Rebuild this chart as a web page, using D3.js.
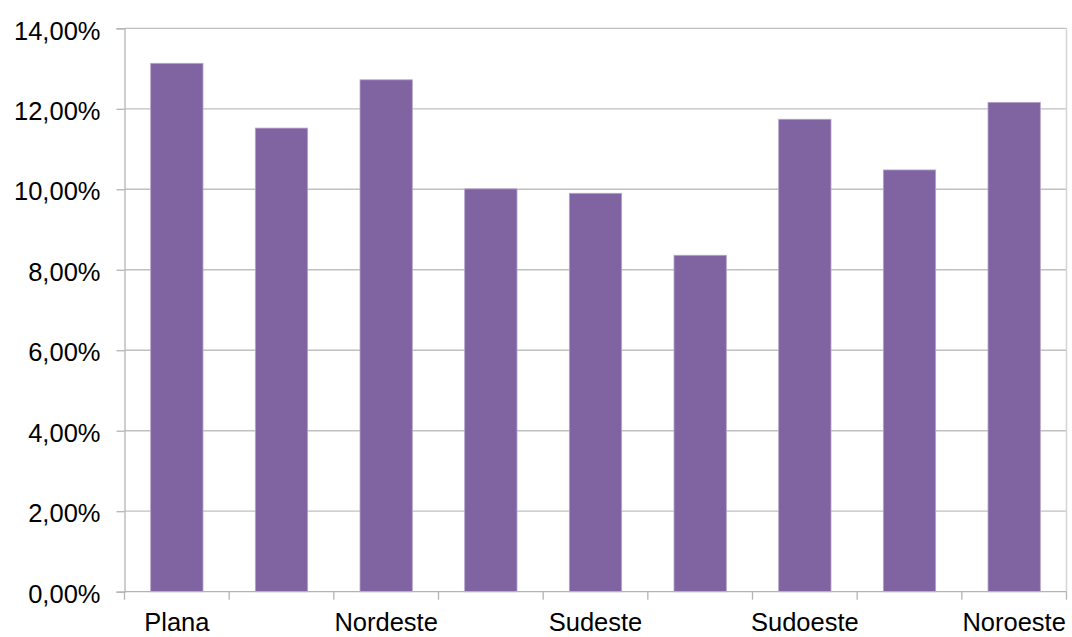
<!DOCTYPE html>
<html>
<head>
<meta charset="utf-8">
<script src="https://cdn.jsdelivr.net/npm/d3@7"></script>
<style>
  html, body { margin: 0; padding: 0; background: #fff; }
  svg { display: block; }
  text { font-family: "Liberation Sans", Arial, Helvetica, sans-serif; fill: #000; }
</style>
</head>
<body>
<svg id="chart" width="1072" height="637"></svg>
<script>
// Regions and their share (%)
const categories = ["Plana", "Norte", "Nordeste", "Leste", "Sudeste", "Sul", "Sudoeste", "Oeste", "Noroeste"];
const values = [13.13, 11.52, 12.72, 10.01, 9.90, 8.36, 11.74, 10.48, 12.16];
// Only every other category name fits under the axis
const shownLabels = ["Plana", "Nordeste", "Sudeste", "Sudoeste", "Noroeste"];
const yTicks = [0, 2, 4, 6, 8, 10, 12, 14];

const svg = d3.select("#chart");
const margin = { top: 28.3, right: 5.5, bottom: 45.3, left: 124.5 };
const W = 1072, H = 637;
const innerW = W - margin.left - margin.right;
const innerH = H - margin.top - margin.bottom;

const g = svg.append("g").attr("transform", `translate(${margin.left},${margin.top})`);

const x = d3.scaleBand().domain(categories).range([0, innerW]).paddingInner(0.5).paddingOuter(0.25);
const y = d3.scaleLinear().domain([0, 14]).range([innerH, 0]);

const fmt = v => d3.format(".2f")(v).replace(".", ",") + "%";

// Horizontal gridlines
g.append("g")
  .selectAll("line")
  .data(yTicks.filter(t => t > 0))
  .join("line")
  .attr("x1", 0).attr("x2", innerW)
  .attr("y1", d => y(d)).attr("y2", d => y(d))
  .attr("stroke", "#c0c0c0").attr("stroke-width", 1.3);

// Right border of the plot area
g.append("line")
  .attr("x1", innerW).attr("x2", innerW)
  .attr("y1", 0).attr("y2", innerH)
  .attr("stroke", "#d6d6d6").attr("stroke-width", 1.6);

// Bars
g.append("g")
  .selectAll("rect")
  .data(categories.map((c, i) => ({ c, v: values[i] })))
  .join("rect")
  .attr("x", d => x(d.c))
  .attr("width", x.bandwidth())
  .attr("y", d => y(d.v))
  .attr("height", d => innerH - y(d.v))
  .attr("fill", "#8064a2")
  .attr("stroke", "#b6a4cc")
  .attr("stroke-width", 0.8);

// Y axis
const yAxis = g.append("g")
  .call(d3.axisLeft(y).tickValues(yTicks).tickFormat(fmt).tickSize(8).tickPadding(16));
yAxis.select(".domain").attr("stroke", "#b4b4b4").attr("stroke-width", 1.3);
yAxis.selectAll(".tick line").attr("stroke", "#b4b4b4").attr("stroke-width", 1.3);
yAxis.selectAll(".tick text")
  .attr("font-size", "25.5px")
  .attr("dy", "0.42em")
  .style("font-family", '"Liberation Sans", Arial, sans-serif');

// X axis: ticks on category boundaries
const step = x.step();
const boundaries = d3.range(categories.length + 1).map(i => i * innerW / categories.length);
const xAxisG = g.append("g").attr("transform", `translate(0,${innerH})`);
xAxisG.append("line")
  .attr("x1", 0).attr("x2", innerW)
  .attr("stroke", "#b4b4b4").attr("stroke-width", 1.3);
xAxisG.selectAll("line.tk")
  .data(boundaries)
  .join("line")
  .attr("class", "tk")
  .attr("x1", d => d).attr("x2", d => d)
  .attr("y1", 0).attr("y2", 8)
  .attr("stroke", "#b4b4b4").attr("stroke-width", 1.3);
xAxisG.selectAll("text")
  .data(shownLabels)
  .join("text")
  .attr("x", d => x(d) + x.bandwidth() / 2)
  .attr("y", 39)
  .attr("text-anchor", "middle")
  .attr("font-size", "25.5px")
  .text(d => d);
</script>
</body>
</html>
